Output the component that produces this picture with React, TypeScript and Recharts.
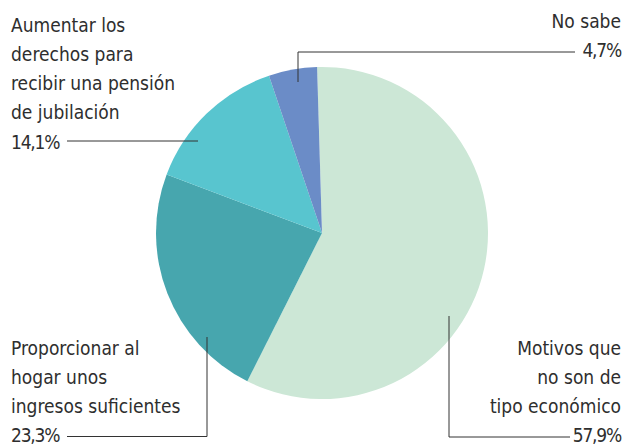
import React from "react"
import { PieChart, Pie, Cell } from "recharts"

const categories = [
  "Motivos que no son de tipo económico",
  "Proporcionar al hogar unos ingresos suficientes",
  "Aumentar los derechos para recibir una pensión de jubilación",
  "No sabe",
]
const labelLines = [
  ["Motivos que", "no son de", "tipo económico"],
  ["Proporcionar al", "hogar unos", "ingresos suficientes"],
  ["Aumentar los", "derechos para", "recibir una pensión", "de jubilación"],
  ["No sabe"],
]
const values = [57.9, 23.3, 14.1, 4.7]
const colors = ["#cce7d6", "#47a6ae", "#58c5cf", "#6b8cc7"]

const data = categories.map((name, i) => ({ name, value: values[i] }))

// where each label sits and how its leader line runs
const layout = [
  { x: 621, anchor: "end", top: 354.5, path: "M449,316 V437 H570" },
  { x: 11, anchor: "start", top: 354.5, path: "M207,337 V436.5 H67" },
  { x: 11, anchor: "start", top: 31.5, path: "M198,141 H67" },
  { x: 621, anchor: "end", top: 27.5, path: "M298,82 V52 H575" },
]
const lineGap = 29.3

const fmt = (v: number) => v.toFixed(1).replace(".", ",") + "%"

const renderLabel = (props: any) => {
  const i = props.index
  const l = layout[i]
  const lines = [...labelLines[i], fmt(values[i])]
  return (
    <g key={"lbl" + i}>
      <path d={l.path} fill="none" stroke="#333" strokeWidth={1} />
      {lines.map((t, k) => (
        <text
          key={k}
          x={l.x}
          y={l.top + k * lineGap}
          textAnchor={l.anchor}
          fill="#2e2e2e"
          fontSize={19}
          letterSpacing={k === lines.length - 1 ? -1.2 : 0}
          fontFamily="'DejaVu Sans Condensed', 'DejaVu Sans', sans-serif"
          fontStretch="condensed"
        >
          {t}
        </text>
      ))}
    </g>
  )
}

export default function App() {
  return (
    <div style={{ position: "absolute", left: 0, top: 0, background: "#fff" }}>
      <PieChart width={625} height={446} margin={{ top: 0, right: 0, bottom: 0, left: 0 }}>
        <Pie
          data={data}
          dataKey="value"
          cx={322}
          cy={233}
          outerRadius={166}
          startAngle={91.7}
          endAngle={-268.3}
          stroke="none"
          label={renderLabel}
          labelLine={false}
          isAnimationActive={false}
        >
          {data.map((d, i) => (
            <Cell key={d.name} fill={colors[i]} />
          ))}
        </Pie>
      </PieChart>
    </div>
  )
}
